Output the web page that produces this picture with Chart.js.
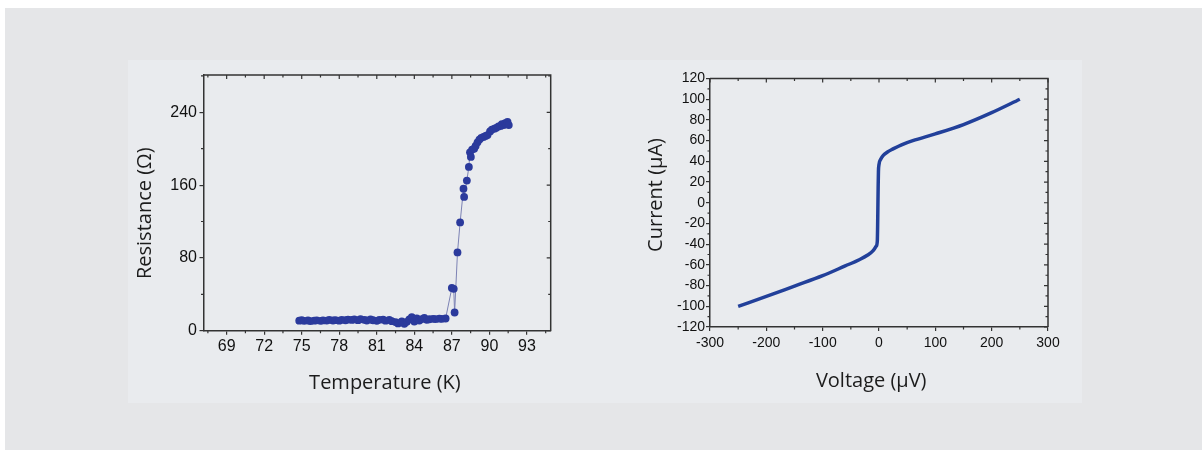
<!DOCTYPE html>
<html>
<head>
<meta charset="utf-8">
<script src="https://cdn.jsdelivr.net/npm/chart.js@4"></script>
<style>
  body { margin: 0; width: 1202px; height: 450px; background: #fff; position: relative; overflow: hidden; }
  #bg { position: absolute; left: 5px; top: 8px; right: 0; bottom: 0; background: #e5e6e8; }
  #panel { position: absolute; left: 128px; top: 60px; width: 954px; height: 343px; background: #e9ebee; }
  canvas { position: absolute; top: 60px; }
  #rt { left: 130px; }
  #iv { left: 630px; }
</style>
</head>
<body>
<div id="bg"></div>
<div id="panel"></div>
<canvas id="rt" width="450" height="340"></canvas>
<canvas id="iv" width="450" height="340"></canvas>
<script>
// Resistance vs temperature
const temperature = [74.8, 75.0, 75.2, 75.5, 75.7, 76.0, 76.2, 76.5, 76.7, 77.0, 77.2, 77.5, 77.7, 78.0, 78.2, 78.5, 78.7, 79.0, 79.2, 79.5,
  79.7, 80.0, 80.2, 80.5, 80.7, 81.0, 81.2, 81.5, 81.7, 82.0, 82.2, 82.5, 82.7, 83.0, 83.2, 83.4, 83.6, 83.8, 84.0, 84.2,
  84.4, 84.6, 84.8, 85.0, 85.2, 85.5, 85.7, 86.0, 86.2, 86.5, 87.0, 87.15, 87.22, 87.45, 87.66, 87.93, 87.98, 88.2, 88.36, 88.45,
  88.52, 88.62, 88.78, 88.9, 89.05, 89.2, 89.35, 89.53, 89.7, 89.85, 90.05, 90.2, 90.4, 90.55, 90.73, 90.9, 91.0, 91.15, 91.26, 91.38,
  91.45, 91.55];
const resistance = [11.0, 11.5, 10.8, 11.2, 10.6, 11.0, 11.4, 10.9, 11.3, 11.1, 11.8, 11.2, 11.6, 11.0, 12.0, 11.5, 12.2, 11.8, 12.4, 11.6,
  12.6, 12.0, 11.2, 12.3, 11.5, 10.8, 11.9, 12.2, 11.0, 11.8, 10.5, 9.5, 8.0, 10.2, 7.6, 9.8, 12.5, 15.0, 10.0, 13.5,
  11.2, 12.8, 14.0, 12.0, 12.6, 13.0, 12.8, 13.2, 13.0, 13.4, 47, 46, 20, 86, 119, 156, 147, 165, 180, 196,
  191, 199, 200, 203, 207, 210, 212, 213, 214, 215, 219, 221, 222, 223, 224.5, 225, 227, 226, 228, 227,
  229.5, 226];
const tempTicks = [69, 72, 75, 78, 81, 84, 87, 90, 93];
const tempMinor = [67.5, 70.5, 73.5, 76.5, 79.5, 82.5, 85.5, 88.5, 91.5, 94.5];
const resTicks = [0, 80, 160, 240];
const resMinor = [40, 120, 200, 280];

// Current vs voltage
const voltage = [-250, -200, -150, -100, -60, -35, -20, -10, -5, -3, -2.5, -2, -1.5, -1, 0, 3, 8, 15, 25, 40, 60, 100, 150, 200, 250];
const current = [-100, -90.5, -80.5, -70.5, -61, -55, -50.5, -46, -42, -37, -25, -5, 15, 30, 37, 42, 46, 49, 52, 56, 60, 66.5, 75.5, 87, 100];
const voltTicks = [-300, -200, -100, 0, 100, 200, 300];
const voltMinor = [-250, -150, -50, 50, 150, 250];
const currTicks = [-120, -100, -80, -60, -40, -20, 0, 20, 40, 60, 80, 100, 120];
const currMinor = [-110, -90, -70, -50, -30, -10, 10, 30, 50, 70, 90, 110];

const axisColor = '#333';
const tickFont = size => ({ family: 'Liberation Sans', size: size });
const titleFont = { family: 'Open Sans', size: 20 };

// closes the frame on top/right and draws the inward and minor tick marks
const frameTicks = {
  id: 'frameTicks',
  afterDraw(chart, args, opts) {
    const { ctx, chartArea: a, scales: { x, y } } = chart;
    ctx.save();
    ctx.strokeStyle = axisColor;
    ctx.lineWidth = 1.5;
    ctx.beginPath();
    ctx.moveTo(a.left, a.top);
    ctx.lineTo(a.right, a.top);
    ctx.lineTo(a.right, a.bottom);
    ctx.stroke();
    ctx.lineWidth = 1.2;
    ctx.beginPath();
    opts.xMajor.forEach(v => {
      const p = x.getPixelForValue(v);
      ctx.moveTo(p, a.top); ctx.lineTo(p, a.top + 4);
    });
    opts.xMinor.forEach(v => {
      const p = x.getPixelForValue(v);
      if (p < a.left || p > a.right) return;
      ctx.moveTo(p, a.top); ctx.lineTo(p, a.top + 2.5);
      ctx.moveTo(p, a.bottom); ctx.lineTo(p, a.bottom + 2.5);
    });
    opts.yMajor.forEach(v => {
      const p = y.getPixelForValue(v);
      ctx.moveTo(a.right, p); ctx.lineTo(a.right - 4, p);
    });
    opts.yMinor.forEach(v => {
      const p = y.getPixelForValue(v);
      if (p < a.top || p > a.bottom) return;
      ctx.moveTo(a.right, p); ctx.lineTo(a.right - 2.5, p);
      ctx.moveTo(a.left, p); ctx.lineTo(a.left - 2.5, p);
    });
    ctx.stroke();
    ctx.restore();
  }
};

function axis(opts) {
  return {
    type: 'linear',
    min: opts.min,
    max: opts.max,
    afterBuildTicks: scale => { scale.ticks = opts.ticks.map(v => ({ value: v })); },
    afterFit: scale => {
      if (opts.width) scale.width = opts.width;
      if (opts.height) scale.height = opts.height;
    },
    border: { display: true, color: axisColor, width: 1.5 },
    grid: { display: true, drawOnChartArea: false, drawTicks: true, tickLength: 4, color: axisColor, lineWidth: 1.2 },
    ticks: { font: tickFont(opts.fontSize), color: '#111', padding: opts.pad, maxRotation: 0, autoSkip: false },
    title: { display: true, text: opts.title, font: titleFont, color: '#1c1c1c', padding: opts.titlePad }
  };
}

new Chart(document.getElementById('rt'), {
  type: 'line',
  data: {
    datasets: [{
      data: temperature.map((t, i) => ({ x: t, y: resistance[i] })),
      borderColor: '#7c82b4',
      borderWidth: 1,
      pointRadius: 3.9,
      pointBackgroundColor: '#2b3a9c',
      pointBorderColor: '#2b3a9c',
      pointBorderWidth: 0,
      tension: 0
    }]
  },
  options: {
    responsive: false,
    animation: false,
    layout: { padding: { top: 15, right: 29.3, left: 0, bottom: 0 } },
    plugins: {
      legend: { display: false },
      tooltip: { enabled: false },
      frameTicks: { xMajor: tempTicks, xMinor: tempMinor, yMajor: resTicks, yMinor: resMinor }
    },
    scales: {
      x: axis({ min: 67.15, max: 94.9, ticks: tempTicks, height: 69.3, fontSize: 16, pad: 2.5,
        title: '   Temperature (K)', titlePad: { bottom: 5, top: 0 } }),
      y: axis({ min: 0, max: 281, ticks: resTicks, width: 73.5, fontSize: 16, pad: 2.5,
        title: 'Resistance (Ω)    ', titlePad: { top: 3, bottom: 0 } })
    }
  },
  plugins: [frameTicks]
});

new Chart(document.getElementById('iv'), {
  type: 'line',
  data: {
    datasets: [{
      data: voltage.map((v, i) => ({ x: v, y: current[i] })),
      borderColor: '#22409a',
      borderWidth: 3.5,
      pointRadius: 0,
      cubicInterpolationMode: 'monotone'
    }]
  },
  options: {
    responsive: false,
    animation: false,
    layout: { padding: { top: 18.5, right: 32, left: 0, bottom: 0 } },
    plugins: {
      legend: { display: false },
      tooltip: { enabled: false },
      frameTicks: { xMajor: voltTicks, xMinor: voltMinor, yMajor: currTicks, yMinor: currMinor }
    },
    scales: {
      x: axis({ min: -300, max: 300, ticks: voltTicks, height: 73, fontSize: 14, pad: 3.6,
        title: 'Voltage (μV)   ', titlePad: { bottom: 6.3, top: 0 } }),
      y: axis({ min: -120, max: 120, ticks: currTicks, width: 80, fontSize: 14, pad: 1,
        title: '   Current (μA)', titlePad: { top: 14.7, bottom: 0 } })
    }
  },
  plugins: [frameTicks]
});
</script>
</body>
</html>
